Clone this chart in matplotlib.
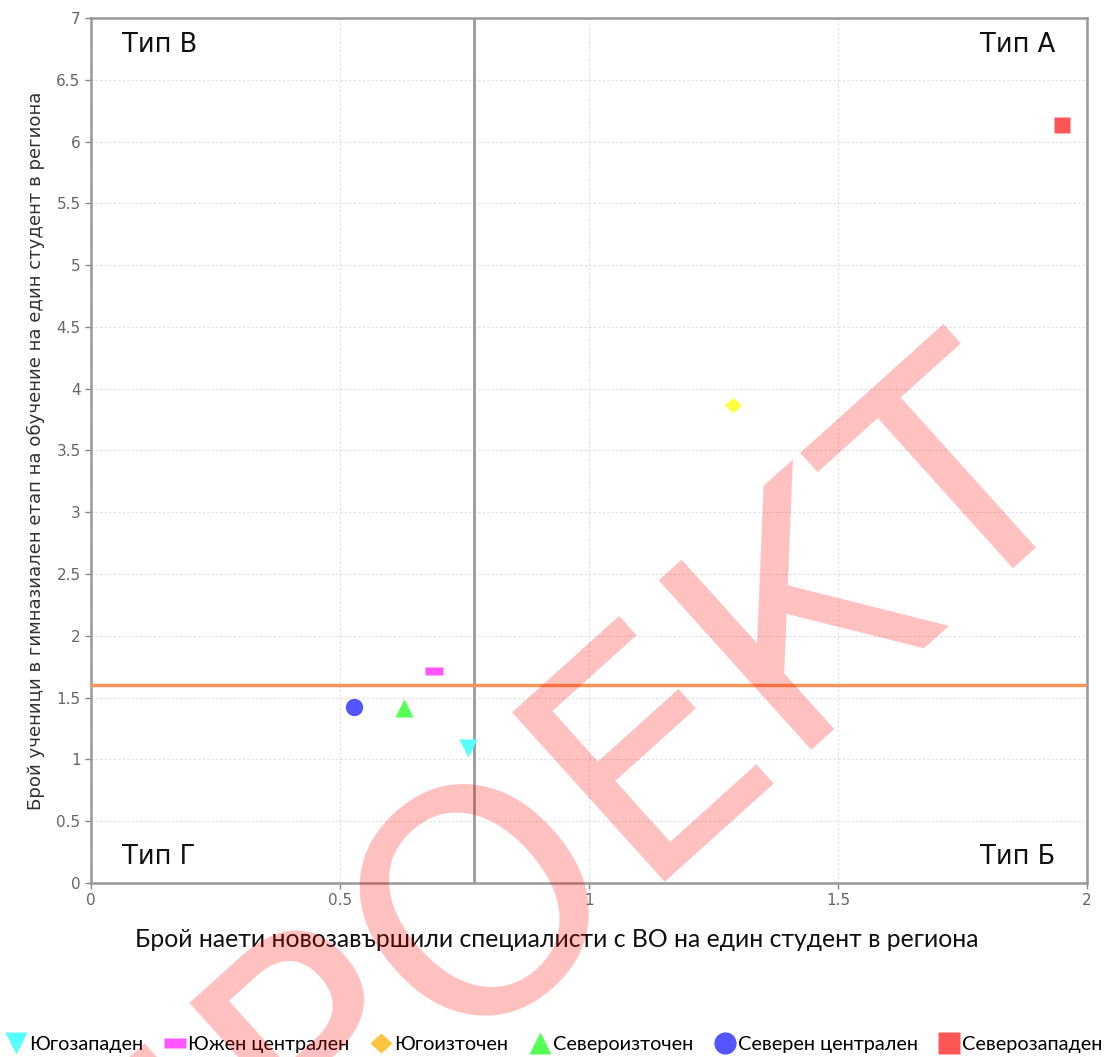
import numpy as np
import matplotlib
matplotlib.use('Agg')
import matplotlib.pyplot as plt
from matplotlib.lines import Line2D

# regions and their coordinates
regions = ['Югозападен', 'Южен централен', 'Югоизточен',
           'Североизточен', 'Северен централен', 'Северозападен']
x_values = [0.757, 0.689, 1.289, 0.628, 0.528, 1.950]
y_values = [1.090, 1.716, 3.870, 1.416, 1.424, 6.130]

# dividing lines between the quadrants
x_split = 0.769
y_split = 1.602

quadrant_labels = ['Тип В', 'Тип А', 'Тип Г', 'Тип Б']

x_ticks = [0, 0.5, 1, 1.5, 2]
x_tick_labels = ['0', '0.5', '1', '1.5', '2']
y_ticks = [0, 0.5, 1, 1.5, 2, 2.5, 3, 3.5, 4, 4.5, 5, 5.5, 6, 6.5, 7]
y_tick_labels = ['0', '0.5', '1', '1.5', '2', '2.5', '3', '3.5', '4', '4.5',
                 '5', '5.5', '6', '6.5', '7']

x_label = 'Брой наети новозавършили специалисти с ВО на един студент в региона'
y_label = 'Брой ученици в гимназиален етап на обучение на един студент в региона'
watermark = 'ПРОЕКТ'

# styles
rect = [(-1, -0.45), (1, -0.45), (1, 0.45), (-1, 0.45)]
diamond = [(0, 0.9), (1, 0), (0, -0.9), (-1, 0)]
markers = ['v', rect, diamond, '^', 'o', 's']
point_colors = ['#55FFFF', '#FF55FF', '#FFFF40', '#55FF55', '#5555FF', '#FF5555']
legend_colors = ['#55FFFF', '#FF55FF', '#FFC440', '#55FF55', '#5555FF', '#FF5555']
point_sizes = [12.5, 12.5, 12.5, 12.5, 12.5, 12]

fig = plt.figure(figsize=(11.07, 10.57), dpi=100)
ax = fig.add_axes([0.0822, 0.1646, 0.8998, 0.8184])

for x, y, m, c, s in zip(x_values, y_values, markers, point_colors, point_sizes):
    ax.plot([x], [y], linestyle='none', marker=m, markersize=s,
            markerfacecolor=c, markeredgecolor='none', zorder=4)

ax.axvline(x_split, color='#999999', linewidth=2, zorder=3)
ax.axhline(y_split, color='#F5955A', linewidth=2.5, zorder=3)

ax.set_xlim(0, 2)
ax.set_ylim(0, 7)
ax.set_xticks(x_ticks)
ax.set_xticklabels(x_tick_labels)
ax.set_yticks(y_ticks)
ax.set_yticklabels(y_tick_labels)
ax.tick_params(colors='#888888', labelcolor='#666666', labelsize=11, length=4, width=1)
ax.grid(True, color='#e0e0e0', linestyle=(0, (2, 2)), linewidth=0.8)
ax.set_axisbelow(True)
for sp in ax.spines.values():
    sp.set_color('#999999')
    sp.set_linewidth(1.8)

ax.set_xlabel(x_label, fontsize=17.8, family=['Lato', 'DejaVu Sans'], color='#111111')
ax.xaxis.set_label_coords(0.468, -0.052)
ax.set_ylabel(y_label, fontsize=13.1, color='#333333', labelpad=8)

q_pos = [(0.031, 0.969, 'left'), (0.968, 0.969, 'right'),
         (0.031, 0.030, 'left'), (0.968, 0.030, 'right')]
for (qx, qy, ha), label in zip(q_pos, quadrant_labels):
    ax.text(qx, qy, label, transform=ax.transAxes, ha=ha, va='center',
            fontsize=18.5, color='#111111')

handles = [Line2D([], [], linestyle='none', marker=m, markersize=16,
                  markerfacecolor=c, markeredgecolor='none')
           for m, c in zip(markers, legend_colors)]
fig.legend(handles, regions, loc='lower center', bbox_to_anchor=(0.5, -0.013), ncol=6,
           frameon=False, handletextpad=0.05, columnspacing=1.0, handlelength=1.2,
           prop={'family': ['Lato', 'DejaVu Sans'], 'size': 14.3})

fig.text(0.502, 0.208, watermark, rotation=42, rotation_mode='anchor',
         ha='center', va='center', fontsize=225, color='#FF0000', alpha=0.25, zorder=10)

fig.savefig('out.png', dpi=100)
